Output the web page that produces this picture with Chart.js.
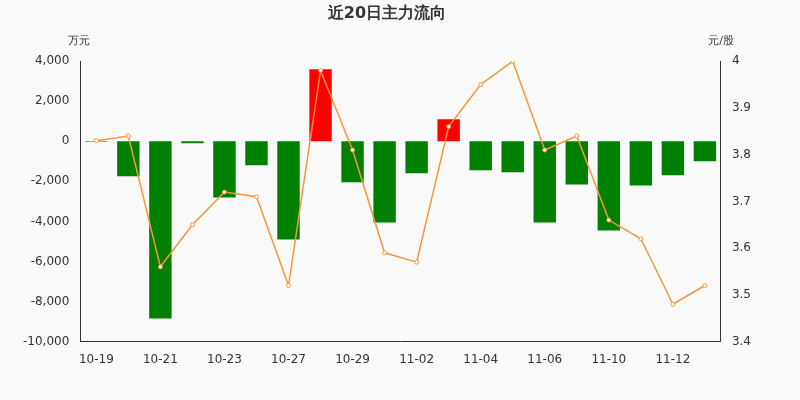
<!DOCTYPE html>
<html><head><meta charset="utf-8">
<script src="https://cdn.jsdelivr.net/npm/chart.js@4"></script>
<style>body{margin:0;background:#f9f9f9}#wrap{width:800px;height:400px}</style>
</head><body><div id="wrap"><canvas id="c"></canvas></div>
<script>
const dates = ['10-19','10-20','10-21','10-22','10-23','10-26','10-27','10-28','10-29','10-30','11-02','11-03','11-04','11-05','11-06','11-09','11-10','11-11','11-12','11-13'];
const flow = [-20,-1750,-8850,-100,-2800,-1200,-4900,3600,-2050,-4050,-1600,1100,-1450,-1550,-4050,-2150,-4450,-2200,-1700,-1000];
const price = [3.83,3.84,3.56,3.65,3.72,3.71,3.52,3.98,3.81,3.59,3.57,3.86,3.95,4.0,3.81,3.84,3.66,3.62,3.48,3.52];
const leftTicks = [4000,2000,0,-2000,-4000,-6000,-8000,-10000];

const units = {
  id: 'units',
  afterDraw(ch) {
    const g = ch.ctx, a = ch.chartArea;
    g.save();
    g.fillStyle = '#333'; g.font = '11px "DejaVu Sans"'; g.textBaseline = 'bottom';
    g.textAlign = 'left'; g.fillText('万元', 68, a.top - 15);
    g.textAlign = 'right'; g.fillText('元/股', 734, a.top - 15);
    g.restore();
  }
};

new Chart(document.getElementById('c'), {
  data: {
    labels: dates,
    datasets: [
      { type: 'line', data: price, yAxisID: 'y1', borderColor: '#f7953b', borderWidth: 1.5,
        pointRadius: 2, pointBackgroundColor: '#fff', pointBorderColor: '#f7953b', pointBorderWidth: 1, tension: 0, order: 0 },
      { type: 'bar', data: flow, yAxisID: 'y', backgroundColor: flow.map(v => v >= 0 ? '#ff0000' : '#008000'),
        categoryPercentage: 0.7, barPercentage: 1, order: 1 }
    ]
  },
  options: {
    responsive: true, maintainAspectRatio: false, animation: false,
    layout: { padding: { top: 0, left: 20, right: 46, bottom: 30 } },
    plugins: {
      legend: { display: false }, tooltip: { enabled: false },
      title: { display: true, text: '近20日主力流向', color: '#333', font: { family: '"DejaVu Sans"', size: 16, weight: 'bold' }, padding: { top: 4, bottom: 38 } }
    },
    scales: {
      x: { grid: { display: false, drawTicks: true }, border: { color: '#333' },
        ticks: { autoSkip: false, maxRotation: 0, color: '#333', font: { family: '"DejaVu Sans"', size: 12 },
          callback: (v, i) => i % 2 === 0 ? dates[i] : '' } },
      y: { position: 'left', min: -10000, max: 4000, afterBuildTicks: s => { s.ticks = leftTicks.map(v => ({ value: v })); },
        grid: { display: false }, border: { color: '#333' },
        ticks: { color: '#333', font: { family: '"DejaVu Sans"', size: 12 }, callback: v => v.toLocaleString('en-US') } },
      y1: { position: 'right', min: 3.4, max: 4, grid: { display: false }, border: { color: '#333' },
        ticks: { stepSize: 0.1, color: '#333', font: { family: '"DejaVu Sans"', size: 12 }, callback: v => +v.toFixed(1) + '' } }
    }
  },
  plugins: [units]
});
</script></body></html>
